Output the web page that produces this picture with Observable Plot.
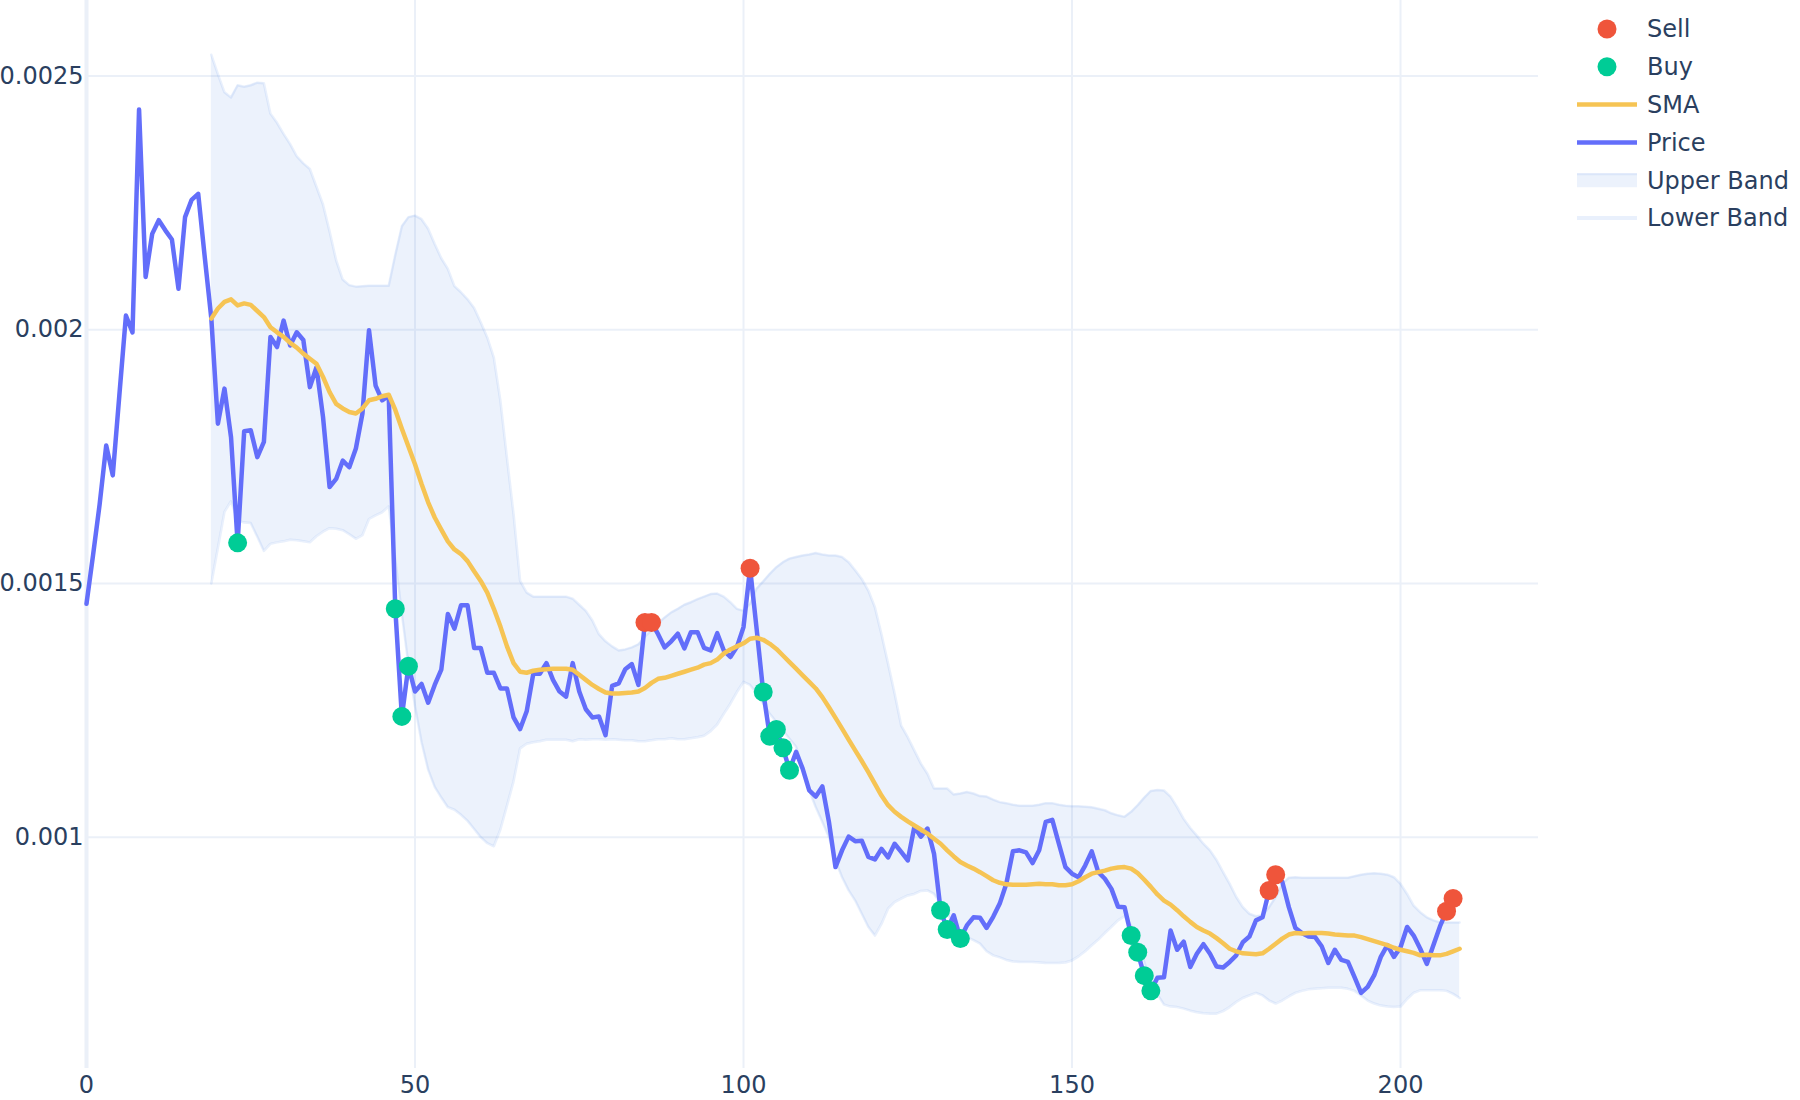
<!DOCTYPE html>
<html><head><meta charset="utf-8">
<script src="https://cdn.jsdelivr.net/npm/d3@7"></script>
<script src="https://cdn.jsdelivr.net/npm/@observablehq/plot@0.6"></script>
<style>
html,body{margin:0;padding:0;background:#fff;}
#chart{position:relative;width:1800px;height:1100px;overflow:hidden;}
</style></head><body><div id="chart"></div>
<script>
// Price series, index 0..208
const price = [
0.00146,0.001556,0.001656,0.001772,0.001713,0.001871,0.002028,0.001995,0.002434,0.002104,
0.002189,0.002216,0.002196,0.002178,0.002081,0.002222,0.002256,0.002268,0.002143,0.002022,
0.001815,0.001884,0.001788,0.00158,0.0018,0.001802,0.001749,0.001779,0.001986,0.001966,
0.002018,0.001969,0.001995,0.00198,0.001887,0.001926,0.001828,0.00169,0.001706,0.001742,
0.001729,0.001766,0.001835,0.001999,0.00189,0.001861,0.00187,0.00145,0.001238,0.001337,
0.001287,0.001302,0.001265,0.0013,0.00133,0.00144,0.001411,0.001457,0.001457,0.001373,
0.001373,0.001324,0.001324,0.001293,0.001293,0.001236,0.001213,0.001248,0.001322,0.001322,
0.001343,0.00131,0.001287,0.001277,0.001343,0.001287,0.001252,0.001236,0.001238,0.001201,
0.001298,0.001303,0.001331,0.001341,0.0013,0.001423,0.001423,0.0014,0.001374,0.001386,
0.001401,0.001372,0.001404,0.001404,0.001373,0.001368,0.001402,0.001368,0.001355,0.001375,
0.001414,0.00153,0.00141,0.001286,0.001199,0.001212,0.001176,0.001132,0.001168,0.001135,
0.001092,0.00108,0.0011,0.00103,0.000941,0.000974,0.001001,0.000992,0.000993,0.000961,
0.000956,0.000977,0.00096,0.000987,0.000971,0.000954,0.00102,0.001001,0.001017,0.000967,
0.000856,0.000818,0.000846,0.0008,0.000826,0.000842,0.000841,0.000821,0.000843,0.000869,
0.000908,0.000972,0.000974,0.00097,0.000949,0.000974,0.00103,0.001034,0.000987,0.000941,
0.000928,0.000921,0.000944,0.000972,0.000931,0.000918,0.000898,0.000863,0.000862,0.000806,
0.000773,0.000727,0.000697,0.000723,0.000724,0.000816,0.000778,0.000794,0.000744,0.00077,
0.000789,0.00077,0.000745,0.000743,0.000754,0.000767,0.000793,0.000804,0.000836,0.000842,
0.000895,0.000926,0.000912,0.000862,0.000821,0.000811,0.000804,0.000803,0.000785,0.000752,
0.000778,0.000758,0.000754,0.000724,0.000693,0.000705,0.000728,0.000764,0.000787,0.000764,
0.000783,0.000823,0.000806,0.00078,0.00075,0.000787,0.000824,0.000854,0.000879
];
// SMA and bands start at index 19 and run to 209
const bandStart = 19;
const sma = [
0.002022,0.002042,0.002055,0.00206,0.002048,0.002052,0.002049,0.002037,0.002025,0.002005,
0.001995,0.001986,0.001974,0.001965,0.001953,0.001943,0.001933,0.001907,0.001877,0.001854,
0.001845,0.001838,0.001835,0.001845,0.001861,0.001864,0.001869,0.001872,0.001842,0.001805,
0.00177,0.001735,0.001696,0.00166,0.00163,0.001606,0.001583,0.001567,0.001558,0.001544,
0.001524,0.001505,0.001482,0.00145,0.001415,0.001376,0.001343,0.001326,0.001324,0.001328,
0.00133,0.001331,0.001332,0.001332,0.001332,0.00133,0.00132,0.00131,0.0013,0.001292,
0.001285,0.001283,0.001283,0.001284,0.001285,0.001287,0.001294,0.001304,0.001312,0.001314,
0.001318,0.001322,0.001326,0.00133,0.001334,0.00134,0.001343,0.00135,0.001362,0.00137,
0.001376,0.001382,0.001391,0.001393,0.001389,0.001381,0.001371,0.001358,0.001345,0.001332,
0.001319,0.001306,0.001293,0.001276,0.001256,0.001235,0.001214,0.001192,0.001171,0.00115,
0.001128,0.001105,0.001082,0.001063,0.00105,0.00104,0.001031,0.001023,0.001015,0.001007,
0.000997,0.000987,0.000974,0.000962,0.000951,0.000944,0.000938,0.000931,0.000923,0.000915,
0.00091,0.000907,0.000906,0.000906,0.000906,0.000907,0.000908,0.000907,0.000907,0.000905,
0.000905,0.000907,0.000913,0.000921,0.000928,0.000931,0.000934,0.000938,0.00094,0.000941,
0.000938,0.000929,0.000916,0.000902,0.000887,0.000875,0.000867,0.000856,0.000844,0.000833,
0.000823,0.000816,0.00081,0.000801,0.000791,0.00078,0.000775,0.000771,0.00077,0.000769,
0.000771,0.00078,0.00079,0.0008,0.000808,0.000811,0.00081,0.000811,0.000811,0.000811,
0.00081,0.000808,0.000807,0.000806,0.000806,0.000803,0.000799,0.000795,0.000791,0.000787,
0.000782,0.000778,0.000775,0.000772,0.000767,0.000768,0.000767,0.000767,0.00077,0.000775,0.00078
];
const upper = [
0.002542,0.002504,0.002468,0.002458,0.002482,0.002479,0.002482,0.002487,0.002486,0.002426,
0.002408,0.002386,0.002366,0.002342,0.002328,0.002317,0.002282,0.002247,0.002194,0.002137,
0.002099,0.002088,0.002085,0.002086,0.002087,0.002087,0.002087,0.002087,0.002148,0.002204,
0.002222,0.002225,0.002218,0.002199,0.002169,0.002141,0.00212,0.002086,0.002074,0.00206,
0.002043,0.002015,0.001985,0.001945,0.00186,0.001747,0.001637,0.001505,0.001482,0.001474,
0.001474,0.001474,0.001474,0.001474,0.001474,0.00147,0.001458,0.001446,0.001427,0.0014,
0.001386,0.001376,0.001368,0.00137,0.001374,0.00138,0.001395,0.001408,0.001421,0.001433,
0.001443,0.00145,0.001458,0.001463,0.001469,0.001474,0.001479,0.00148,0.001474,0.001463,
0.00145,0.001446,0.00146,0.00149,0.001504,0.001519,0.001532,0.001542,0.001549,0.001552,
0.001555,0.001557,0.00156,0.001557,0.001555,0.001555,0.001552,0.001542,0.001526,0.001509,
0.001486,0.001453,0.0014,0.001342,0.001283,0.00122,0.001197,0.001171,0.001145,0.001125,
0.001096,0.001096,0.001096,0.001084,0.001086,0.001089,0.001086,0.001081,0.00108,0.001074,
0.001069,0.001067,0.001064,0.001062,0.001062,0.001062,0.001064,0.001067,0.001067,0.001064,
0.001062,0.001061,0.001061,0.00106,0.001059,0.001056,0.001053,0.001047,0.001043,0.00104,
0.00105,0.001063,0.001078,0.001091,0.001093,0.001092,0.00108,0.001059,0.001036,0.001018,
0.001003,0.000987,0.000974,0.000955,0.000931,0.000908,0.000882,0.000862,0.000849,0.000844,
0.000846,0.000862,0.000882,0.000908,0.00092,0.000921,0.00092,0.00092,0.00092,0.00092,
0.00092,0.00092,0.00092,0.00092,0.000923,0.000926,0.000928,0.000929,0.000928,0.000926,
0.000921,0.000908,0.000888,0.000865,0.000852,0.000842,0.000836,0.000832,0.000832,0.000832,0.000832
];
const lower = [
0.0015,0.00157,0.001641,0.001662,0.001624,0.00162,0.001619,0.001592,0.001564,0.001578,
0.001581,0.001583,0.001586,0.001585,0.001583,0.001581,0.001593,0.001602,0.001609,0.001608,
0.001605,0.001597,0.001588,0.001595,0.001627,0.001634,0.00164,0.001652,0.001548,0.00144,
0.00134,0.001258,0.001187,0.001133,0.001099,0.001078,0.001059,0.001054,0.001044,0.001032,
0.001016,0.001,0.000988,0.000982,0.001015,0.001062,0.00111,0.001175,0.001184,0.001187,
0.001189,0.001192,0.001192,0.001192,0.001192,0.001189,0.001193,0.001192,0.001193,0.001193,
0.001192,0.001193,0.001192,0.001191,0.001191,0.001189,0.001189,0.001191,0.001193,0.001193,
0.001195,0.001193,0.001193,0.001195,0.001197,0.0012,0.001209,0.001222,0.001243,0.001263,
0.001286,0.001306,0.0013,0.001283,0.001263,0.001243,0.001227,0.00121,0.001194,0.001178,
0.001138,0.001092,0.001059,0.00103,0.001,0.000954,0.000921,0.000895,0.000875,0.000849,
0.000823,0.000806,0.000829,0.000859,0.000872,0.000879,0.000885,0.000888,0.000894,0.000895,
0.000888,0.000869,0.000849,0.000829,0.000816,0.000803,0.000797,0.00079,0.000775,0.000767,
0.000763,0.000758,0.000755,0.000754,0.000754,0.000754,0.000753,0.000752,0.000752,0.000752,
0.000753,0.000757,0.000765,0.000775,0.000787,0.000798,0.000811,0.000823,0.000836,0.000844,
0.000826,0.000795,0.000754,0.000713,0.00069,0.00067,0.000666,0.000665,0.000662,0.000658,
0.000655,0.000653,0.000652,0.000652,0.000657,0.000665,0.000675,0.000683,0.000688,0.000693,
0.000688,0.000678,0.000672,0.000678,0.000686,0.000693,0.000697,0.0007,0.000701,0.000702,
0.000703,0.000703,0.000703,0.000701,0.000697,0.000688,0.000678,0.000672,0.000668,0.000666,
0.000665,0.000666,0.000681,0.000693,0.000698,0.000698,0.000698,0.000698,0.000697,0.000691,0.000683
];
const sellIdx = [85,86,101,180,181,207,208];
const buyIdx = [23,47,48,49,103,104,105,106,107,130,131,133,159,160,161,162];
const xTicks = [0,50,100,150,200];
const yTicks = [0.001,0.0015,0.002,0.0025];
const legendNames = ["Sell","Buy","SMA","Price","Upper Band","Lower Band"];

const C = {
  price:"#636EFA", sma:"#F6C454", sell:"#EF553B", buy:"#00CC96",
  band:"rgb(70,130,230)", grid:"#EBF0F8", text:"#2a3f5f"
};

const priceData = price.map((v,i)=>({x:i, y:v}));
const bandData = sma.map((v,i)=>({x:i+bandStart, sma:v, upper:upper[i], lower:lower[i]}));
const sells = sellIdx.map(i=>({x:i, y:price[i]}));
const buys = buyIdx.map(i=>({x:i, y:price[i]}));

const chart = Plot.plot({
  width:1800, height:1100,
  marginTop:0, marginBottom:32, marginLeft:86, marginRight:262,
  style:{fontFamily:"'DejaVu Sans', Verdana, sans-serif", fontSize:"24px", color:C.text, background:"#fff", overflow:"visible"},
  x:{domain:[0,221], label:null},
  y:{domain:[0.000544,0.002649], label:null},
  marks:[
    Plot.gridY(yTicks,{stroke:C.grid, strokeOpacity:1, strokeWidth:2}),
    Plot.gridX(xTicks.slice(1),{stroke:C.grid, strokeOpacity:1, strokeWidth:2}),
    Plot.ruleX([0],{stroke:C.grid, strokeOpacity:1, strokeWidth:4}),
    Plot.areaY(bandData,{x:"x", y1:"lower", y2:"upper", fill:C.band, fillOpacity:0.1}),
    Plot.lineY(bandData,{x:"x", y:"upper", stroke:C.band, strokeOpacity:0.12, strokeWidth:2.5}),
    Plot.lineY(bandData,{x:"x", y:"lower", stroke:C.band, strokeOpacity:0.12, strokeWidth:2.5}),
    Plot.lineY(priceData,{x:"x", y:"y", stroke:C.price, strokeWidth:4.5}),
    Plot.lineY(bandData,{x:"x", y:"sma", stroke:C.sma, strokeWidth:4.5}),
    Plot.dot(buys,{x:"x", y:"y", r:9.5, fill:C.buy}),
    Plot.dot(sells,{x:"x", y:"y", r:9.5, fill:C.sell}),
    Plot.axisX({ticks:xTicks, tickSize:0, tickPadding:7, label:null}),
    Plot.axisY({ticks:yTicks, tickSize:0, tickPadding:3, label:null, tickFormat:d=>String(d)})
  ]
});
document.getElementById("chart").appendChild(chart);

// Legend (top right)
const svg = d3.select(chart);
const lg = svg.append("g")
  .attr("font-family","'DejaVu Sans', Verdana, sans-serif")
  .attr("font-size",24)
  .attr("text-anchor","start");
const y0 = 29, dy = 37.8, sx0 = 1577, sx1 = 1637, tx = 1647;
legendNames.forEach((name,i)=>{
  const y = y0 + i*dy;
  const g = lg.append("g");
  if (name === "Sell" || name === "Buy") {
    g.append("circle").attr("cx",(sx0+sx1)/2).attr("cy",y).attr("r",9.5).attr("fill", name==="Sell"?C.sell:C.buy);
  } else if (name === "SMA" || name === "Price") {
    g.append("line").attr("x1",sx0).attr("x2",sx1).attr("y1",y).attr("y2",y)
      .attr("stroke", name==="SMA"?C.sma:C.price).attr("stroke-width",4.5);
  } else if (name === "Upper Band") {
    g.append("rect").attr("x",sx0).attr("y",y-7).attr("width",sx1-sx0).attr("height",14)
      .attr("fill",C.band).attr("fill-opacity",0.1);
    g.append("line").attr("x1",sx0).attr("x2",sx1).attr("y1",y-6).attr("y2",y-6)
      .attr("stroke",C.band).attr("stroke-opacity",0.1).attr("stroke-width",2);
  } else {
    g.append("line").attr("x1",sx0).attr("x2",sx1).attr("y1",y).attr("y2",y)
      .attr("stroke",C.band).attr("stroke-opacity",0.12).attr("stroke-width",4);
  }
  g.append("text").attr("x",tx).attr("y",y).attr("dy","0.35em").attr("fill",C.text).attr("text-anchor","start").text(name);
});
</script>
</body></html>
